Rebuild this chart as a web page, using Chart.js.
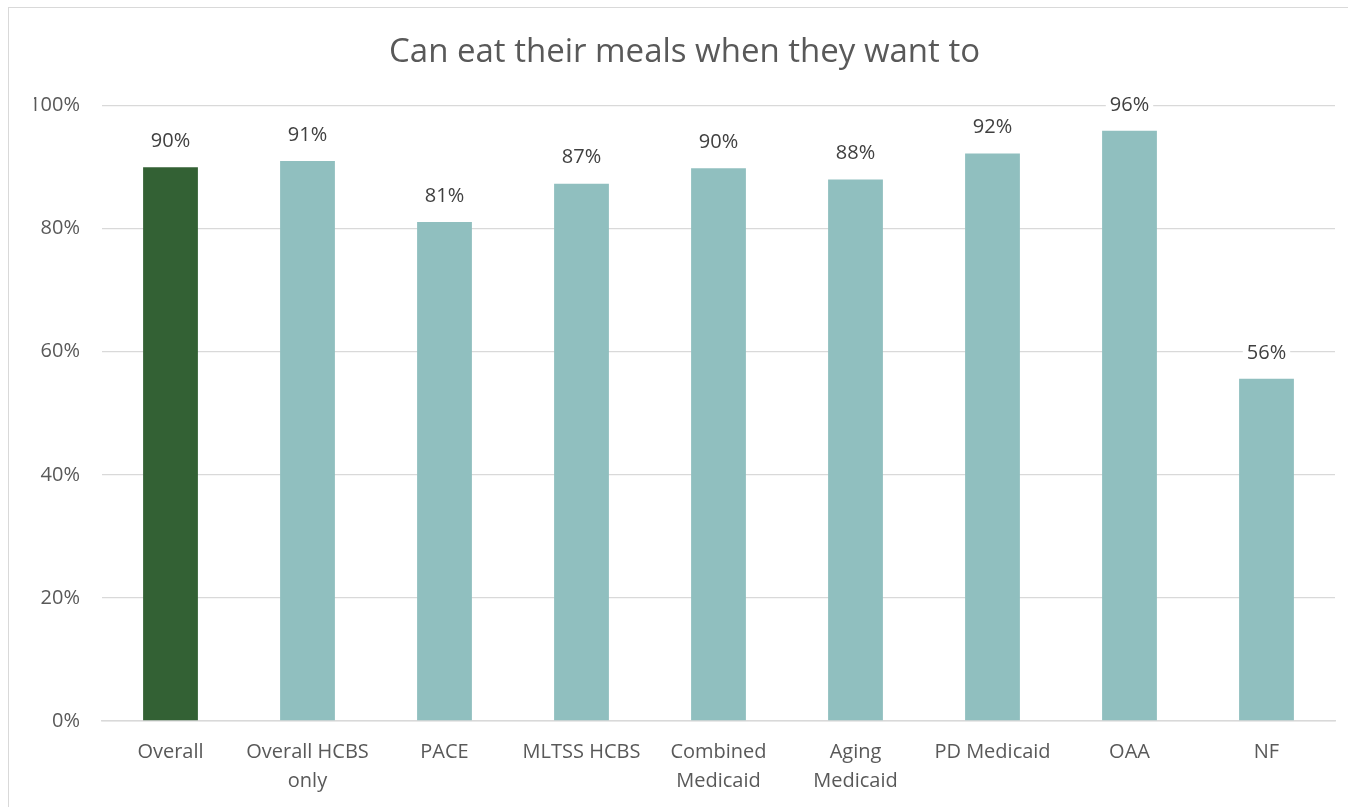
<!DOCTYPE html>
<html>
<head>
<meta charset="utf-8">
<style>
  html, body { margin: 0; padding: 0; background: #fff; }
  #wrap { position: relative; width: 1348px; height: 807px; }
</style>
<script src="https://cdn.jsdelivr.net/npm/chart.js@4.4.1/dist/chart.umd.min.js"></script>
</head>
<body>
<div id="wrap"><canvas id="chart" width="1348" height="807"></canvas></div>
<script>
var categories = ['Overall', ['Overall HCBS', 'only'], 'PACE', 'MLTSS HCBS', ['Combined', 'Medicaid'], ['Aging', 'Medicaid'], 'PD Medicaid', 'OAA', 'NF'];
var values = [90.0, 91.0, 81.1, 87.3, 89.8, 88.0, 92.2, 95.9, 55.6];
var yTicks = [0, 20, 40, 60, 80, 100];
var titleText = 'Can eat their meals when they want to';

var green = '#336134';
var teal = '#90bfbf';
var textColor = '#595959';
var fontFamily = '"Open Sans", "DejaVu Sans", sans-serif';

var barColors = values.map(function (v, i) { return i === 0 ? green : teal; });

// outer border of the chart box
var frame = {
  id: 'frame',
  beforeDraw: function (chart) {
    var ctx = chart.ctx;
    ctx.save();
    ctx.fillStyle = '#fff';
    ctx.fillRect(0, 0, chart.width, chart.height);
    ctx.strokeStyle = '#d9d9d9';
    ctx.lineWidth = 1;
    ctx.strokeRect(8.5, 7.5, chart.width, chart.height);
    ctx.restore();
  }
};

// value labels above the bars, with white box behind
var barLabels = {
  id: 'barLabels',
  afterDatasetsDraw: function (chart) {
    var ctx = chart.ctx;
    var meta = chart.getDatasetMeta(0);
    ctx.save();
    ctx.font = '20px ' + fontFamily;
    ctx.textAlign = 'center';
    ctx.textBaseline = 'middle';
    meta.data.forEach(function (bar, i) {
      var txt = Math.round(values[i]) + '%';
      var y = bar.y - 26;
      var w = ctx.measureText(txt).width + 8;
      ctx.fillStyle = '#fff';
      ctx.fillRect(bar.x - w / 2, y - 12, w, 24);
      ctx.fillStyle = '#404040';
      ctx.fillText(txt, bar.x, y);
    });
    ctx.restore();
  }
};

new Chart(document.getElementById('chart'), {
  type: 'bar',
  data: {
    labels: categories,
    datasets: [{
      data: values,
      backgroundColor: barColors,
      borderWidth: 0,
      barPercentage: 0.4,
      categoryPercentage: 1
    }]
  },
  options: {
    responsive: false,
    animation: false,
    layout: { padding: { left: 34, right: 13, top: 0, bottom: 0 } },
    plugins: {
      legend: { display: false },
      tooltip: { enabled: false },
      title: {
        display: true,
        text: titleText,
        color: textColor,
        font: { family: fontFamily, size: 33, weight: 'normal', lineHeight: 1.2 },
        padding: { top: 33, bottom: 33 }
      }
    },
    scales: {
      x: {
        grid: { display: false, drawTicks: false },
        border: { display: true, color: '#d9d9d9', width: 1.5 },
        ticks: {
          color: textColor,
          font: { family: fontFamily, size: 20, lineHeight: 1.45 },
          padding: 17,
          maxRotation: 0,
          autoSkip: false
        },
        afterFit: function (scale) { scale.height = 86; }
      },
      y: {
        min: 0,
        max: 100,
        afterBuildTicks: function (scale) {
          scale.ticks = yTicks.map(function (v) { return { value: v }; });
        },
        grid: { color: '#d9d9d9', lineWidth: 1.3, drawTicks: false },
        border: { display: false },
        ticks: {
          color: textColor,
          font: { family: fontFamily, size: 20 },
          padding: 22,
          callback: function (v) { return v + '%'; }
        },
        afterFit: function (scale) { scale.width = 68; }
      }
    }
  },
  plugins: [frame, barLabels]
});
</script>
</body>
</html>
